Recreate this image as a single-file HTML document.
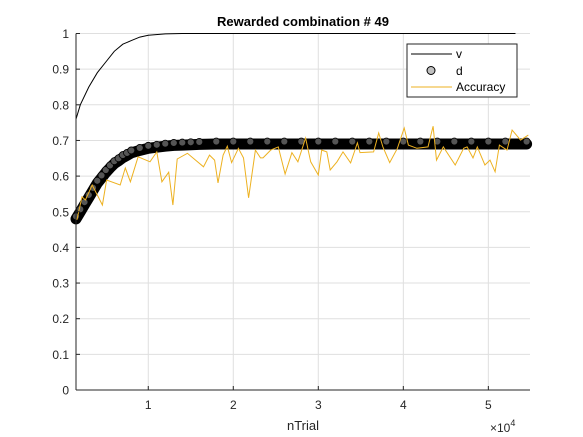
<!DOCTYPE html>
<html><head><meta charset="utf-8"><style>
body{margin:0;background:#fff;}
svg{display:block;font-family:"Liberation Sans","DejaVu Sans",sans-serif;}
</style></head><body>
<svg id="chart" width="583" height="437">
<rect width="583" height="437" fill="#fff"/>
<rect x="76" y="33.5" width="454" height="356.5" fill="#fff"/>
<g id="grid"></g>
<g id="series"></g>
<g id="axes"></g>
<text x="303" y="26" text-anchor="middle" font-size="13" font-weight="bold" fill="#000">Rewarded combination # 49</text>
<text x="303" y="430" text-anchor="middle" font-size="13" fill="#262626">nTrial</text>
<text x="490" y="432" font-size="12" fill="#262626">×10<tspan dy="-6" font-size="9">4</tspan></text>
<g>
<rect x="407" y="44" width="110" height="53" fill="#fff" stroke="#262626" stroke-width="1"/>
<line x1="411" y1="54" x2="452" y2="54" stroke="#000"/>
<text x="456" y="58" font-size="12" fill="#000">v</text>
<circle cx="431" cy="70.5" r="4" fill="#c0c0c0" stroke="#000"/>
<text x="456" y="75" font-size="12" fill="#000">d</text>
<line x1="411" y1="87" x2="452" y2="87" stroke="#edb120"/>
<text x="456" y="91" font-size="12" fill="#000">Accuracy</text>
</g>
</svg>
<script>
const xTicks=[1,2,3,4,5];
const yTicks=[0,0.1,0.2,0.3,0.4,0.5,0.6,0.7,0.8,0.9,1];
const yTickLabels=["0","0.1","0.2","0.3","0.4","0.5","0.6","0.7","0.8","0.9","1"];
const vTrials=[1.5,2,3,4,5,6,7,8,9,10,12,14,53.2];
const vValues=[0.76,0.80,0.85,0.89,0.92,0.95,0.97,0.98,0.99,0.995,0.999,1,1];
const dTrials=[1.5,2,2.5,3,3.5,4,4.5,5,5.5,6,6.5,7,7.5,8,9,10,11,12,13,14,15,16,18,20,22,24,26,28,30,32,34,36,38,40,42,44,46,48,50,52,54.5];
const dValues=[0.48,0.50,0.52,0.54,0.56,0.58,0.595,0.61,0.623,0.635,0.643,0.652,0.658,0.665,0.672,0.678,0.681,0.684,0.686,0.687,0.688,0.689,0.69,0.69,0.69,0.69,0.69,0.69,0.69,0.69,0.69,0.69,0.69,0.69,0.69,0.69,0.69,0.69,0.69,0.69,0.69];
const accTrials=[1.6,2.2,2.6,3.4,4.6,5.1,6.7,7.3,7.9,8.8,10.2,11.0,11.6,12.4,12.9,13.4,14.6,16.5,17.2,17.8,18.2,18.8,19.3,19.8,20.6,21.2,21.8,22.6,23.2,23.5,24.4,25.3,26.1,26.9,27.6,28.5,29.1,30.0,30.4,31.0,31.4,32.2,32.9,33.8,34.6,34.9,36.5,37.1,37.6,38.4,39.3,40.1,40.6,41.6,42.9,43.5,43.9,44.7,46.1,47.1,47.5,48.2,48.7,49.6,50.2,50.8,51.3,52.2,52.8,53.8,54.7];
const accValues=[0.477,0.542,0.533,0.575,0.519,0.589,0.575,0.623,0.584,0.654,0.640,0.668,0.584,0.611,0.519,0.648,0.664,0.626,0.659,0.645,0.581,0.659,0.684,0.638,0.678,0.651,0.539,0.673,0.651,0.651,0.673,0.682,0.606,0.666,0.640,0.707,0.640,0.603,0.673,0.668,0.617,0.640,0.668,0.637,0.693,0.666,0.668,0.721,0.682,0.638,0.678,0.735,0.687,0.678,0.682,0.740,0.645,0.682,0.631,0.678,0.682,0.651,0.682,0.631,0.645,0.612,0.687,0.673,0.729,0.701,0.715];

const NS="http://www.w3.org/2000/svg";
const L=76,R=530,T=33.5,B=390,XMIN=1.5,XMAX=54.9;
function sx(t){return L+(t-XMIN)/(XMAX-XMIN)*(R-L);}
function sy(v){return B-v*(B-T);}
function mk(tag,attrs,parent){const e=document.createElementNS(NS,tag);for(const k in attrs)e.setAttribute(k,attrs[k]);parent.appendChild(e);return e;}
const grid=document.getElementById('grid'),axes=document.getElementById('axes'),series=document.getElementById('series');
xTicks.forEach(t=>{
  const g=mk('line',{x1:sx(t*10),x2:sx(t*10),y1:T,y2:B,stroke:'#dfdfdf'},grid);
  
  
  const k=mk('line',{x1:sx(t*10),x2:sx(t*10),y1:B,y2:B-4,stroke:'#262626'},axes);
  
  
  const lb=mk('text',{x:sx(t*10),y:409,'text-anchor':'middle','font-size':12,fill:'#262626'},axes);
  lb.textContent=t;
  
  
});
yTicks.forEach((v,i)=>{
  const g=mk('line',{x1:L,x2:R,y1:sy(v),y2:sy(v),stroke:'#dfdfdf'},grid);
  
  
  const k=mk('line',{x1:L,x2:L+4,y1:sy(v),y2:sy(v),stroke:'#262626'},axes);
  
  
  const lb=mk('text',{x:69,y:sy(v)+4.5,'text-anchor':'end','font-size':12,fill:'#262626'},axes);
  lb.textContent=yTickLabels[i];
  
  
});
const xa=mk('line',{x1:L,x2:R,y1:B,y2:B,stroke:'#262626'},axes);


const ya=mk('line',{x1:L,x2:L,y1:T,y2:B,stroke:'#262626'},axes);



function pts(xs,ys){return xs.map((t,i)=>sx(t).toFixed(1)+','+sy(ys[i]).toFixed(1)).join(' ');}
const vl=mk('polyline',{points:pts(vTrials,vValues),fill:'none',stroke:'#000','stroke-width':1},series);


const band=mk('polyline',{points:pts(dTrials,dValues),fill:'none',stroke:'#000','stroke-width':11,'stroke-linejoin':'round','stroke-linecap':'round'},series);


dTrials.forEach((t,i)=>{
  const c=mk('circle',{cx:sx(t),cy:sy(dValues[i])-2.5,r:3.5,fill:'#555',stroke:'#000','stroke-width':0.8},series);
  
  
});
const al=mk('polyline',{points:pts(accTrials,accValues),fill:'none',stroke:'#edb120','stroke-width':1},series);


</script>
</body></html>
